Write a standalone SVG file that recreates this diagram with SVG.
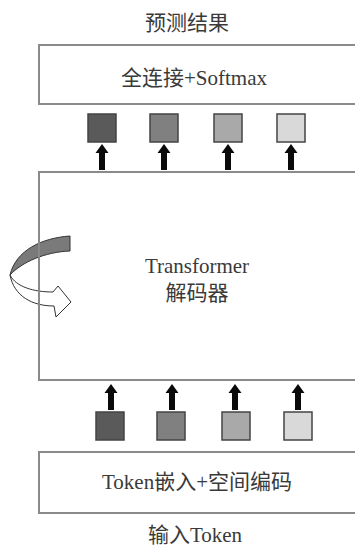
<svg xmlns="http://www.w3.org/2000/svg" width="355" height="546" viewBox="0 0 355 546">
<defs>
<style>
.box{fill:none;stroke:#8a8a8a;stroke-width:2}
.t{font-family:"Liberation Serif","Noto Sans CJK SC",serif;fill:#3a3a3a;text-anchor:middle;font-size:21px}
.sq{stroke:#444;stroke-width:1.5}
.arr{fill:#0a0a0a}
</style>
<path id="up" d="M0,-13 L6.5,-4 L3,-4 L3,13 L-3,13 L-3,-4 L-6.5,-4 Z"/>
</defs>
<rect width="355" height="546" fill="#fff"/>
<text class="t" x="187" y="30">预测结果</text>
<text class="t" x="195" y="542">输入Token</text>
<g id="decoder-loop">
<path d="M70,236 C42,238 16,250 10,275 C22,262 45,252 70,251 Z" fill="#7a7a7a" stroke="#333" stroke-width="1"/>
<path d="M10,275 C16,287 34,292 53,292 L58,286 L71,302 L56,317 L54,306 C32,306 14,296 10,275 Z" fill="#fff" stroke="#333" stroke-width="1"/>
</g>
<g id="fc-softmax">
<rect class="box" x="39" y="45" width="330" height="59"/>
<text class="t" x="194" y="85">全连接+Softmax</text>
</g>
<g id="transformer">
<rect class="box" x="39" y="172" width="330" height="208"/>
<text class="t" x="197" y="273">Transformer</text>
<text class="t" x="197" y="300">解码器</text>
</g>
<g id="embedding">
<rect class="box" x="39" y="452" width="330" height="61"/>
<text class="t" x="197" y="489">Token嵌入+空间编码</text>
</g>
<g id="out-tokens">
<rect class="sq" x="88" y="114" width="28" height="28" fill="#5a5a5a"/>
<rect class="sq" x="150" y="114" width="28" height="28" fill="#808080"/>
<rect class="sq" x="214" y="114" width="28" height="28" fill="#a9a9a9"/>
<rect class="sq" x="277" y="114" width="28" height="28" fill="#d9d9d9"/>
</g>
<g id="in-tokens">
<rect class="sq" x="96" y="412" width="28" height="28" fill="#5a5a5a"/>
<rect class="sq" x="157" y="412" width="28" height="28" fill="#808080"/>
<rect class="sq" x="222" y="412" width="28" height="28" fill="#a9a9a9"/>
<rect class="sq" x="284" y="412" width="28" height="28" fill="#d9d9d9"/>
</g>
<g id="connectors" class="arr">
<use href="#up" x="102" y="157"/>
<use href="#up" x="164" y="157"/>
<use href="#up" x="228" y="157"/>
<use href="#up" x="291" y="157"/>
<use href="#up" x="111" y="397"/>
<use href="#up" x="172" y="397"/>
<use href="#up" x="235" y="397"/>
<use href="#up" x="298" y="397"/>
</g>
</svg>
